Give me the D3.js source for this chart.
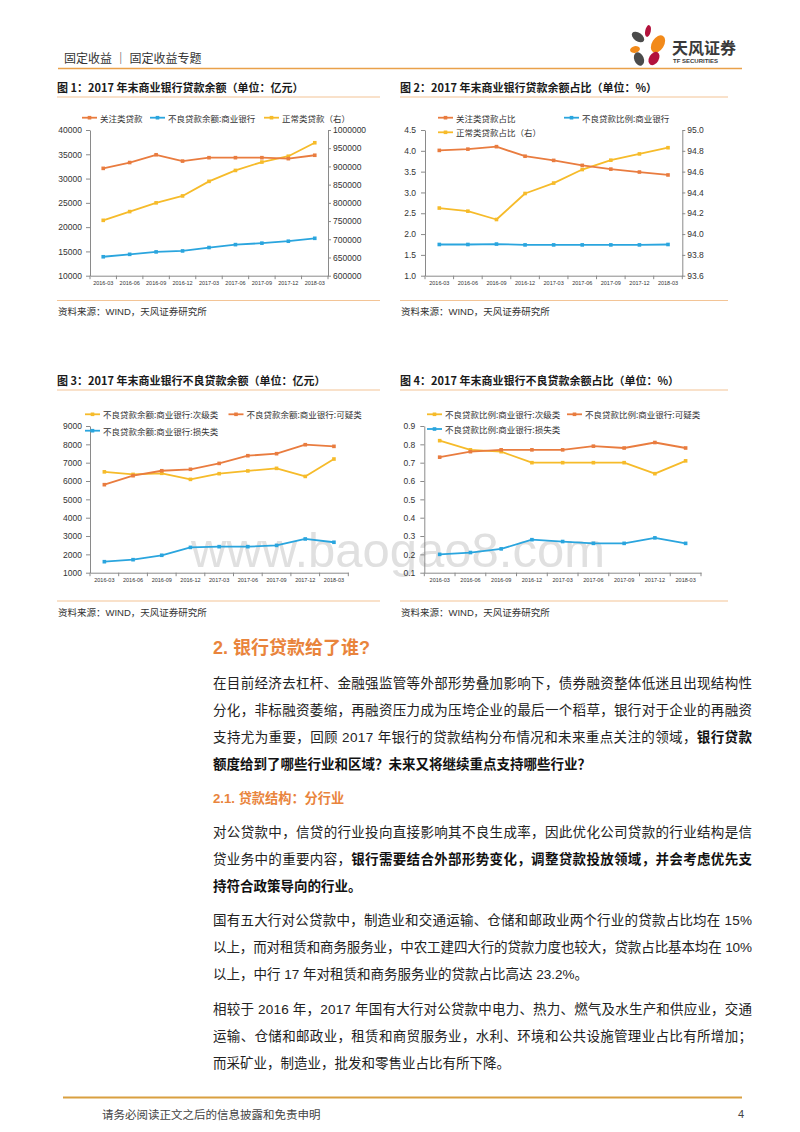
<!DOCTYPE html>
<html><head><meta charset="utf-8">
<script src="https://cdn.jsdelivr.net/npm/d3@7"></script>
<style>
html,body{margin:0;padding:0;background:#fff;}
svg{display:block;}
</style></head>
<body>
<svg id="page" width="800" height="1132"></svg>
<script>
// ---------- DATA ----------
const dates = ["2016-03","2016-06","2016-09","2016-12","2017-03","2017-06","2017-09","2017-12","2018-03"];

// Chart 1 (亿元)
const c1Attention = [32100,33300,34900,33600,34300,34300,34300,34100,34800];
const c1NPL       = [13900,14400,14900,15100,15800,16400,16700,17100,17700];
const c1Normal    = [752000,776000,800000,819000,859000,889000,912000,928000,965000];
const c1LeftTicks  = [10000,15000,20000,25000,30000,35000,40000];
const c1RightTicks = [600000,650000,700000,750000,800000,850000,900000,950000,1000000];

// Chart 2 (%)
const c2Attention = [4.01,4.04,4.10,3.87,3.77,3.65,3.56,3.49,3.42];
const c2NPL       = [1.75,1.75,1.76,1.74,1.74,1.74,1.74,1.74,1.75];
const c2Normal    = [94.25,94.22,94.14,94.39,94.49,94.62,94.71,94.77,94.83];
const c2LeftTicks  = [1.0,1.5,2.0,2.5,3.0,3.5,4.0,4.5];
const c2RightTicks = [93.6,93.8,94.0,94.2,94.4,94.6,94.8,95.0];

// Chart 3 (亿元)
const c3Sub      = [6500,6360,6420,6090,6400,6550,6690,6250,7200];
const c3Doubtful = [5800,6290,6560,6640,6960,7380,7490,7980,7890];
const c3Loss     = [1600,1710,1950,2380,2420,2420,2490,2840,2660];
const c3Ticks = [1000,2000,3000,4000,5000,6000,7000,8000,9000];

// Chart 4 (%)
const c4Sub      = [0.82,0.77,0.76,0.70,0.70,0.70,0.70,0.64,0.71];
const c4Doubtful = [0.73,0.76,0.77,0.77,0.77,0.79,0.78,0.81,0.78];
const c4Loss     = [0.20,0.21,0.23,0.28,0.27,0.26,0.26,0.29,0.26];
const c4Ticks = [0.1,0.2,0.3,0.4,0.5,0.6,0.7,0.8,0.9];

// ---------- STYLE ----------
const ORANGE = "#E97C3F", BLUE = "#2AA5DE", YELLOW = "#F6BB2A";
const CJK = "'Noto Sans CJK SC', sans-serif";
const LAT = "'Liberation Sans', 'Noto Sans CJK SC', sans-serif";

const svg = d3.select("#page");
svg.append("rect").attr("width",800).attr("height",1132).attr("fill","#fff");

// watermark (behind)
svg.append("text").attr("x",191).attr("y",567)
  .attr("font-family","'Liberation Sans', sans-serif").attr("font-size",49)
  .attr("fill","#e0e0e0").text("www.baogao8.com");

// ---------- HEADER ----------
svg.append("text").attr("x",64).attr("y",57).attr("dominant-baseline","central")
  .attr("font-family",CJK).attr("font-size",12).attr("fill","#333").text("固定收益 ｜ 固定收益专题");
svg.append("line").attr("x1",58).attr("x2",742).attr("y1",68.5).attr("y2",68.5)
  .attr("stroke","#E9A14A").attr("stroke-width",1.3);
// logo
const logo = svg.append("g");
[[638,37,7,4.2,35,"#4b4b4b"],[648,31,2.8,6,12,"#B3123C"],[658,44,6,9.5,32,"#F28A1A"],
 [635,49.5,5,3.3,-12,"#F28A1A"],[639,59,4.8,7,-22,"#4b4b4b"],[654,58.5,4.8,7.2,30,"#B3123C"]]
 .forEach(p=>logo.append("ellipse").attr("cx",p[0]).attr("cy",p[1]).attr("rx",p[2]).attr("ry",p[3])
   .attr("transform",`rotate(${p[4]},${p[0]},${p[1]})`).attr("fill",p[5]));
svg.append("text").attr("x",672).attr("y",47).attr("dominant-baseline","central")
  .attr("font-family",CJK).attr("font-weight","bold").attr("font-size",16).attr("fill","#3a3a3a").text("天风证券");
svg.append("text").attr("x",673).attr("y",61).attr("dominant-baseline","central")
  .attr("font-family","'Liberation Sans',sans-serif").attr("font-weight","bold").attr("font-size",6).attr("fill","#3a3a3a").text("TF SECURITIES");

// ---------- PANEL FRAMES ----------
function panelFrame(x1, x2, titleY, lineY, srcLineY, title) {
  svg.append("text").attr("x",x1).attr("y",titleY).attr("dominant-baseline","central")
    .attr("font-family",CJK).attr("font-weight","bold").attr("font-size",11).attr("fill","#1a1a1a").text(title);
  svg.append("line").attr("x1",x1).attr("x2",x2).attr("y1",lineY).attr("y2",lineY)
    .attr("stroke","#F3C496").attr("stroke-width",1.2);
  svg.append("line").attr("x1",x1).attr("x2",x2).attr("y1",srcLineY).attr("y2",srcLineY)
    .attr("stroke","#F3C496").attr("stroke-width",1.2);
  svg.append("text").attr("x",x1+1).attr("y",srcLineY+11).attr("dominant-baseline","central")
    .attr("font-family",LAT).attr("font-size",9.5).attr("fill","#333").text("资料来源：WIND，天风证券研究所");
}
panelFrame(57, 380, 86.5, 97, 300.5, "图 1：2017 年末商业银行贷款余额（单位：亿元）");
panelFrame(400, 728, 86.5, 97, 300.5, "图 2：2017 年末商业银行贷款余额占比（单位：%）");
panelFrame(57, 380, 380, 390, 601, "图 3：2017 年末商业银行不良贷款余额（单位：亿元）");
panelFrame(400, 728, 380, 390, 601, "图 4：2017 年末商业银行不良贷款余额占比（单位：%）");

// ---------- CHARTS ----------
function styleAxis(g){
  g.selectAll("path.domain").attr("stroke","#8a8a8a").attr("stroke-width",1);
  g.selectAll(".tick line").attr("stroke","#8a8a8a");
  g.selectAll(".tick text").attr("fill","#333").attr("font-family","'Liberation Sans',sans-serif");
}
function drawChart(cfg){
  const g = svg.append("g");
  const x = d3.scaleBand().domain(dates).range([cfg.x0,cfg.x1]);
  const yL = d3.scaleLinear().domain(cfg.leftDomain).range([cfg.yB,cfg.yT]);
  const yR = cfg.rightDomain ? d3.scaleLinear().domain(cfg.rightDomain).range([cfg.yB,cfg.yT]) : null;

  const gl = g.append("g").attr("transform",`translate(${cfg.x0},0)`)
    .call(d3.axisLeft(yL).tickValues(cfg.leftTicks).tickFormat(cfg.leftFmt).tickSizeInner(4).tickSizeOuter(0).tickPadding(cfg.lPad||4));
  gl.selectAll(".tick text").attr("font-size",8.5);
  styleAxis(gl);
  if (yR){
    const gr = g.append("g").attr("transform",`translate(${cfg.x1},0)`)
      .call(d3.axisRight(yR).tickValues(cfg.rightTicks).tickFormat(cfg.rightFmt).tickSizeInner(3).tickSizeOuter(0).tickPadding(2));
    gr.selectAll(".tick text").attr("font-size",8.5);
    styleAxis(gr);
  }
  // x axis
  const gx = g.append("g").attr("transform",`translate(0,${cfg.yB})`)
    .call(d3.axisBottom(x).tickSize(0).tickPadding(5));
  gx.selectAll(".tick text").attr("font-size",5.5);
  styleAxis(gx);
  // boundary ticks
  d3.range(dates.length+1).forEach(i=>{
    const bx = cfg.x0 + i*x.step();
    g.append("line").attr("x1",bx).attr("x2",bx).attr("y1",cfg.yB).attr("y2",cfg.yB+3.5)
      .attr("stroke","#8a8a8a");
  });

  cfg.series.forEach(s=>{
    const y = s.right ? yR : yL;
    const line = d3.line().x((d,i)=>x(dates[i])+x.bandwidth()/2).y(d=>y(d));
    g.append("path").datum(s.values).attr("d",line).attr("fill","none")
      .attr("stroke",s.color).attr("stroke-width",1.8).attr("stroke-linejoin","round");
    g.selectAll(null).data(s.values).enter().append("rect")
      .attr("x",(d,i)=>x(dates[i])+x.bandwidth()/2-1.8).attr("y",d=>y(d)-1.8)
      .attr("width",3.6).attr("height",3.6).attr("fill",s.color);
  });
  // legend
  cfg.legend.forEach(l=>{
    g.append("line").attr("x1",l.x).attr("x2",l.x+15).attr("y1",l.y).attr("y2",l.y)
      .attr("stroke",l.color).attr("stroke-width",1.8);
    g.append("rect").attr("x",l.x+7.5-1.8).attr("y",l.y-1.8).attr("width",3.6).attr("height",3.6).attr("fill",l.color);
    g.append("text").attr("x",l.x+18).attr("y",l.y).attr("dominant-baseline","central")
      .attr("font-family",CJK).attr("font-size",8.5).attr("fill","#333").text(l.label);
  });
}

drawChart({
  x0:90, x1:328, yT:130, yB:275.7,
  leftDomain:[10000,40000], leftTicks:c1LeftTicks, leftFmt:d3.format("d"),
  rightDomain:[600000,1000000], rightTicks:c1RightTicks, rightFmt:d3.format("d"),
  series:[
    {values:c1Normal, color:YELLOW, right:true},
    {values:c1Attention, color:ORANGE},
    {values:c1NPL, color:BLUE}
  ],
  legend:[
    {label:"关注类贷款", color:ORANGE, x:82, y:117.7},
    {label:"不良贷款余额:商业银行", color:BLUE, x:150, y:117.7},
    {label:"正常类贷款（右）", color:YELLOW, x:264, y:117.7}
  ]
});

drawChart({
  x0:425, x1:682.3, yT:130, yB:275.7,
  leftDomain:[1.0,4.5], leftTicks:c2LeftTicks, leftFmt:d3.format(".1f"), lPad:5,
  rightDomain:[93.6,95.0], rightTicks:c2RightTicks, rightFmt:d3.format(".1f"),
  series:[
    {values:c2Normal, color:YELLOW, right:true},
    {values:c2Attention, color:ORANGE},
    {values:c2NPL, color:BLUE}
  ],
  legend:[
    {label:"关注类贷款占比", color:ORANGE, x:438, y:117.7},
    {label:"不良贷款比例:商业银行", color:BLUE, x:564, y:117.7},
    {label:"正常类贷款占比（右）", color:YELLOW, x:438, y:132.3}
  ]
});

drawChart({
  x0:90, x1:348.3, yT:426, yB:572.7,
  leftDomain:[1000,9000], leftTicks:c3Ticks, leftFmt:d3.format("d"),
  series:[
    {values:c3Sub, color:YELLOW},
    {values:c3Doubtful, color:ORANGE},
    {values:c3Loss, color:BLUE}
  ],
  legend:[
    {label:"不良贷款余额:商业银行:次级类", color:YELLOW, x:85, y:414.3},
    {label:"不良贷款余额:商业银行:可疑类", color:ORANGE, x:228.5, y:414.3},
    {label:"不良贷款余额:商业银行:损失类", color:BLUE, x:85, y:430.7}
  ]
});

drawChart({
  x0:424.3, x1:701, yT:426, yB:572.7,
  leftDomain:[0.1,0.9], leftTicks:c4Ticks, leftFmt:d3.format(".1f"), lPad:5,
  series:[
    {values:c4Sub, color:YELLOW},
    {values:c4Doubtful, color:ORANGE},
    {values:c4Loss, color:BLUE}
  ],
  legend:[
    {label:"不良贷款比例:商业银行:次级类", color:YELLOW, x:427, y:414.3},
    {label:"不良贷款比例:商业银行:可疑类", color:ORANGE, x:567, y:414.3},
    {label:"不良贷款比例:商业银行:损失类", color:BLUE, x:427, y:429}
  ]
});

// ---------- BODY TEXT ----------
function heading(y, size, txt){
  svg.append("text").attr("x",213).attr("y",y).attr("dominant-baseline","central")
    .attr("font-family",LAT).attr("font-weight","bold").attr("font-size",size).attr("fill","#E9843C").text(txt);
}
function bodyLine(y, parts, full){
  const t = svg.append("text").attr("x",213).attr("y",y).attr("dominant-baseline","central")
    .attr("font-family",LAT).attr("font-size",13.5).attr("fill","#222");
  parts.forEach(p=>{
    const s = t.append("tspan").text(p[0]);
    if (p[1]) s.attr("font-weight","bold").attr("fill","#111");
  });
  if (full) t.attr("textLength",539).attr("lengthAdjust","spacing");
}
heading(648, 18, "2. 银行贷款给了谁?");
bodyLine(683, [["在目前经济去杠杆、金融强监管等外部形势叠加影响下，债券融资整体低迷且出现结构性"]], true);
bodyLine(710, [["分化，非标融资萎缩，再融资压力成为压垮企业的最后一个稻草，银行对于企业的再融资"]], true);
bodyLine(737, [["支持尤为重要，回顾 2017 年银行的贷款结构分布情况和未来重点关注的领域，"],["银行贷款",true]], true);
bodyLine(764, [["额度给到了哪些行业和区域？未来又将继续重点支持哪些行业？",true]], false);

heading(798, 13.2, "2.1. 贷款结构：分行业");
bodyLine(832, [["对公贷款中，信贷的行业投向直接影响其不良生成率，因此优化公司贷款的行业结构是信"]], true);
bodyLine(859, [["贷业务中的重要内容，"],["银行需要结合外部形势变化，调整贷款投放领域，并会考虑优先支",true]], true);
bodyLine(886, [["持符合政策导向的行业。",true]], false);

bodyLine(920, [["国有五大行对公贷款中，制造业和交通运输、仓储和邮政业两个行业的贷款占比均在 15%"]], true);
bodyLine(947, [["以上，而对租赁和商务服务业，中农工建四大行的贷款力度也较大，贷款占比基本均在 10%"]], true);
bodyLine(974, [["以上，中行 17 年对租赁和商务服务业的贷款占比高达 23.2%。"]], false);

bodyLine(1009, [["相较于 2016 年，2017 年国有大行对公贷款中电力、热力、燃气及水生产和供应业，交通"]], true);
bodyLine(1036, [["运输、仓储和邮政业，租赁和商贸服务业，水利、环境和公共设施管理业占比有所增加；"]], true);
bodyLine(1063, [["而采矿业，制造业，批发和零售业占比有所下降。"]], false);

// ---------- FOOTER ----------
svg.append("line").attr("x1",63).attr("x2",742).attr("y1",1097.5).attr("y2",1097.5)
  .attr("stroke","#D9A040").attr("stroke-width",2);
svg.append("text").attr("x",102).attr("y",1114).attr("dominant-baseline","central")
  .attr("font-family",CJK).attr("font-size",11.5).attr("fill","#444").text("请务必阅读正文之后的信息披露和免责申明");
svg.append("text").attr("x",744).attr("y",1114).attr("dominant-baseline","central").attr("text-anchor","end")
  .attr("font-family","'Liberation Sans',sans-serif").attr("font-size",11).attr("fill","#444").text("4");
</script>
</body></html>
